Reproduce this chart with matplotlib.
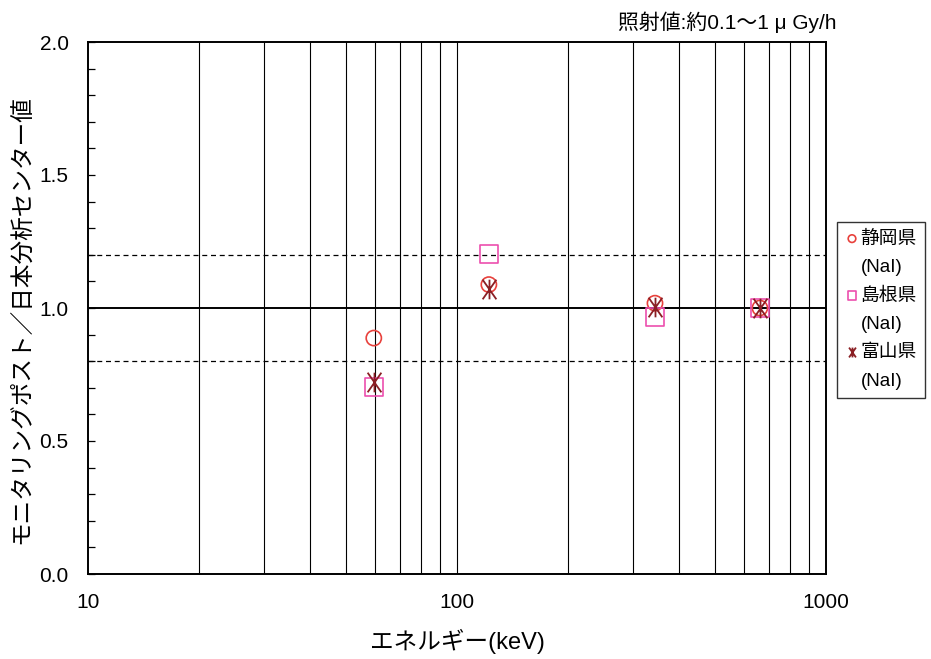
import matplotlib
matplotlib.use("Agg")
import matplotlib.pyplot as plt
from matplotlib.lines import Line2D
from matplotlib.path import Path
from matplotlib.ticker import FixedLocator, MultipleLocator, NullFormatter, FixedFormatter

plt.rcParams["font.family"] = ["Liberation Sans", "Noto Sans CJK JP", "DejaVu Sans"]

# energies (keV)
energy = [59.5, 122, 344, 662]

shizuoka = [0.887, 1.088, 1.018, 1.0]
shimane = [0.703, 1.203, 0.966, 1.0]
toyama = [0.722, 1.070, 1.005, 1.0]

series_names = ["静岡県", "島根県", "富山県"]
detector = "(NaI)"

x_ticks = [10, 100, 1000]
x_grid = [20, 30, 40, 50, 60, 70, 80, 90, 200, 300, 400, 500, 600, 700, 800, 900]
y_ticks = [0.0, 0.5, 1.0, 1.5, 2.0]
ref_dashed = [0.8, 1.2]
ref_solid = 1.0

# X with a vertical bar, like the Excel star marker
star = Path([(-0.7, -1), (0.7, 1), (-0.7, 1), (0.7, -1), (0, -1), (0, 1)],
            [Path.MOVETO, Path.LINETO, Path.MOVETO, Path.LINETO, Path.MOVETO, Path.LINETO])

fig = plt.figure(figsize=(9.31, 6.59), dpi=100)
ax = fig.add_axes([88 / 931, 1 - 574 / 659, 738 / 931, 532 / 659])

ax.set_xscale("log")
ax.set_xlim(10, 1000)
ax.set_ylim(0, 2.0)

for xv in x_grid + [100]:
    ax.axvline(xv, color="black", lw=0.8, zorder=1)
for yv in ref_dashed:
    ax.axhline(yv, color="black", lw=0.9, ls=(0, (4, 3)), zorder=1)
ax.axhline(ref_solid, color="black", lw=1.4, zorder=1)

h1 = ax.scatter(energy, shizuoka, marker="o", s=120, facecolors="none",
                edgecolors="#e8413c", linewidths=1.2, zorder=3)
h2 = ax.scatter(energy, shimane, marker="s", s=160, facecolors="none",
                edgecolors="#ec4fae", linewidths=1.2, zorder=3)
h3 = ax.scatter(energy, toyama, marker=star, s=200,
                color="#8a1f24", linewidths=1.3, zorder=4)

ax.xaxis.set_major_locator(FixedLocator(x_ticks))
ax.xaxis.set_major_formatter(FixedFormatter([str(v) for v in x_ticks]))
ax.xaxis.set_minor_formatter(NullFormatter())
ax.tick_params(axis="x", which="both", length=0, pad=14, labelsize=15)

ax.yaxis.set_major_locator(FixedLocator(y_ticks))
ax.yaxis.set_major_formatter(FixedFormatter([f"{v:.1f}" for v in y_ticks]))
ax.yaxis.set_minor_locator(MultipleLocator(0.1))
ax.tick_params(axis="y", which="both", direction="in", length=5, width=0.9,
               labelsize=15, pad=14)

for sp in ax.spines.values():
    sp.set_linewidth(1.4)

ax.set_xlabel("エネルギー(keV)", fontsize=17, labelpad=12)
ax.set_ylabel("モニタリングポスト／日本分析センター値", fontsize=17)
ax.yaxis.set_label_coords(-0.075, 0.478)

fig.text(837 / 931, 1 - 22 / 659, "照射値:約0.1～1 μ Gy/h", ha="right", va="center",
         fontsize=15)

# legend: marker on the name line, detector on its own line below
blank = Line2D([], [], linestyle="none")
handles, labels = [], []
for h, name in zip([h1, h2, h3], series_names):
    handles += [h, blank]
    labels += [name, detector]

leg = fig.legend(handles, labels, loc="upper left",
                 bbox_to_anchor=(837 / 931, 1 - 222 / 659), borderaxespad=0,
                 fontsize=13.5, frameon=True, fancybox=False, edgecolor="black",
                 handletextpad=0.1, handlelength=0.7, markerscale=0.5,
                 borderpad=0.45, labelspacing=0.6)
leg.get_frame().set_linewidth(1.0)

fig.savefig("out.png", dpi=100)
